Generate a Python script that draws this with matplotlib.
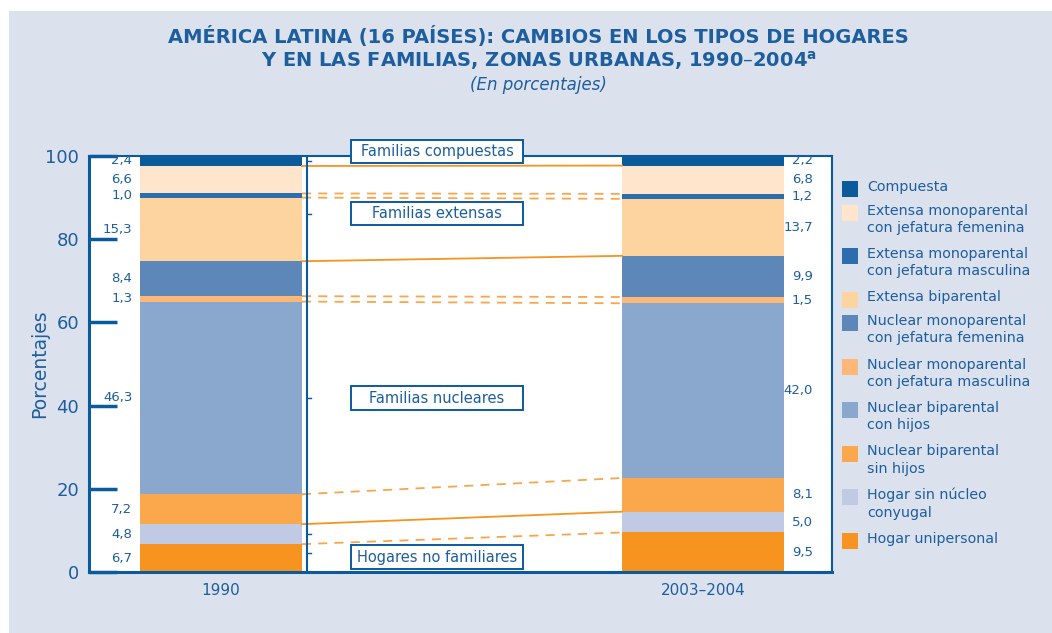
import matplotlib
matplotlib.use("Agg")
import matplotlib.pyplot as plt
from matplotlib.patches import Rectangle
import numpy as np

plt.rcParams['font.family'] = ['DejaVu Sans']

# data (stacking order, bottom to top)
categories = ["Hogar unipersonal", "Hogar sin núcleo\nconyugal",
              "Nuclear biparental\nsin hijos", "Nuclear biparental\ncon hijos",
              "Nuclear monoparental\ncon jefatura masculina",
              "Nuclear monoparental\ncon jefatura femenina",
              "Extensa biparental",
              "Extensa monoparental\ncon jefatura masculina",
              "Extensa monoparental\ncon jefatura femenina",
              "Compuesta"]
years = ["1990", "2003–2004"]
vals_1990 = [6.7, 4.8, 7.2, 46.3, 1.3, 8.4, 15.3, 1.0, 6.6, 2.4]
vals_2004 = [9.5, 5.0, 8.1, 42.0, 1.5, 9.9, 13.7, 1.2, 6.8, 2.2]
groups = ["Familias compuestas", "Familias extensas", "Familias nucleares", "Hogares no familiares"]

colors = ['#F7931F', '#C0CAE4', '#FBA74C', '#8AA7CE', '#FDB877',
          '#5D86B9', '#FDD3A0', '#2B6DAD', '#FFE5CB', '#0A5A9C']
# style of the connector drawn at the top of each segment
conn_style = ['dash', 'solid', 'dash', 'dash', 'dash', 'solid', 'dash', 'dash', 'solid', None]

blue = '#1D5E9E'
dark = '#0B5A9E'
bg = '#DCE1EE'

fig = plt.figure(figsize=(10.52, 6.33), dpi=100)
fig.patch.set_facecolor('white')
fig.patches.append(Rectangle((9/1052, 0), 1, 1 - 11/633, transform=fig.transFigure,
                             facecolor=bg, edgecolor='none', zorder=-10))

ax = fig.add_axes([89/1052, 61/633, (832-89)/1052, (572-156)/633])
ax.set_facecolor('white')

w = 0.336
xs = np.arange(len(years))
data = [vals_1990, vals_2004]
tops = []
for i, vals in enumerate(data):
    cum = np.concatenate([[0], np.cumsum(vals)])
    tops.append(cum[1:])
    for k, v in enumerate(vals):
        ax.bar(xs[i], v, bottom=cum[k], width=w, color=colors[k], linewidth=0, zorder=2)
        mid = cum[k] + v / 2
        lab = f"{v:.1f}".replace('.', ',')
        if i == 0:
            ax.text(xs[i] - w/2 - 0.016, mid, lab, ha='right', va='center', fontsize=9.5, color=blue)
        else:
            ax.text(xs[i] + w/2 + 0.06, mid, lab, ha='right', va='center', fontsize=9.5, color=blue)

# connectors between the bars
for k, st in enumerate(conn_style):
    if st is None:
        continue
    y0, y1 = tops[0][k], tops[1][k]
    if st == 'solid':
        ax.plot([xs[0] + w/2, xs[1] - w/2], [y0, y1], color='#F7931F', lw=1.3, zorder=3)
    else:
        ax.plot([xs[0] + w/2, xs[1] - w/2], [y0, y1], color='#F9A54A', lw=1.3,
                ls=(0, (5, 4)), zorder=3)

# vertical brace line
bx = 0.178
ax.plot([bx, bx], [0, 99.7], color=dark, lw=1.5, zorder=4)
for yb in [98.8, 86.1, 41.8, 9.1, 4.6]:
    ax.plot([bx, bx + 0.008], [yb, yb], color=dark, lw=1, zorder=4)

# group boxes
box_y = [101.0, 86.1, 41.8, 3.6]
bx0, bx1, bh = 0.2697, 0.6266, 5.6
for g, yc in zip(groups, box_y):
    ax.add_patch(Rectangle((bx0, yc - bh/2), bx1 - bx0, bh, facecolor='white',
                           edgecolor=dark, lw=1.4, zorder=6, clip_on=False))
    ax.text((bx0 + bx1)/2, yc, g, ha='center', va='center', fontsize=10.5,
            color=blue, zorder=7, clip_on=False)

ax.set_xlim(-0.274, 1.268)
ax.set_ylim(0, 100)
ax.set_yticks([0, 20, 40, 60, 80, 100])
ax.set_xticks(xs)
ax.set_xticklabels(years)
ax.tick_params(axis='y', direction='in', length=20, width=2.5, color=dark,
               labelsize=13, labelcolor=blue, pad=7)
ax.tick_params(axis='x', length=0, labelsize=11, labelcolor=blue, pad=8)
ax.set_ylabel("Porcentajes", fontsize=13.5, color=blue)
ax.yaxis.set_label_coords(-0.054, 0.5)
for s in ['left', 'bottom']:
    ax.spines[s].set_color(dark)
    ax.spines[s].set_linewidth(2.2)
for s in ['right', 'top']:
    ax.spines[s].set_color(dark)
    ax.spines[s].set_linewidth(1.5)

# legend drawn by hand (reversed order, square aligned with first line)
ly = 189
for k in range(len(categories) - 1, -1, -1):
    fig.patches.append(Rectangle((842/1052, 1 - (ly + 8)/633), 16/1052, 16/633,
                                 transform=fig.transFigure, facecolor=colors[k],
                                 edgecolor='none'))
    fig.text(867/1052, 1 - (ly - 9)/633, categories[k], ha='left', va='top',
             fontsize=10.3, color=blue, linespacing=1.3)
    nlines = categories[k].count('\n') + 1
    ly += 23.5 + 20 * (nlines - 1)

# titles
fig.text(0.512, 1 - 36/633, "AMÉRICA LATINA (16 PAÍSES): CAMBIOS EN LOS TIPOS DE HOGARES",
         ha='center', va='center', fontsize=14, fontweight='bold', color=blue)
fig.text(0.512, 1 - 60/633, r"Y EN LAS FAMILIAS, ZONAS URBANAS, 1990–2004$^{\mathregular{a}}$",
         ha='center', va='center', fontsize=14, fontweight='bold', color=blue)
fig.text(0.512, 1 - 85/633, "(En porcentajes)", ha='center', va='center',
         fontsize=12, style='italic', color=blue)

fig.savefig("out.png", dpi=100, facecolor=fig.get_facecolor())
